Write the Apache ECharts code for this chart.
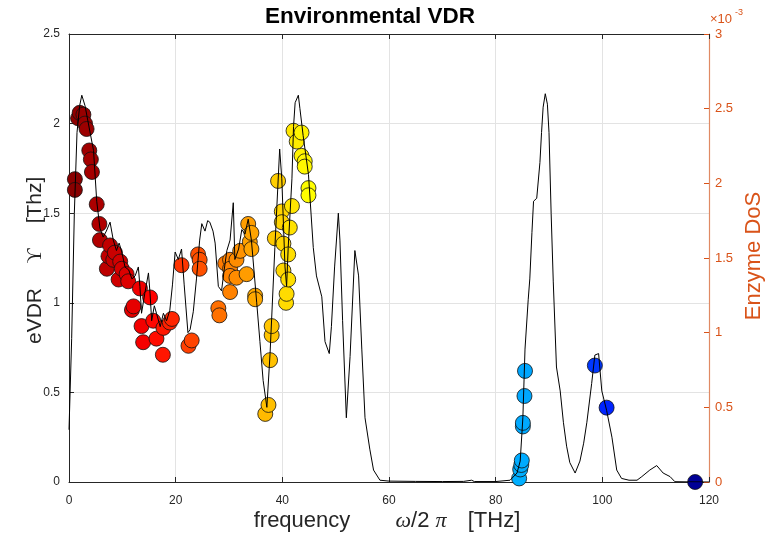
<!DOCTYPE html>
<html><head><meta charset="utf-8">
<script src="https://cdn.jsdelivr.net/npm/echarts@6/dist/echarts.min.js"></script>
<style>html,body{margin:0;padding:0;background:#fff}#c{width:768px;height:538px}</style>
</head><body><div id="c"></div>
<script>
// ---- data ----
const xTickValues = [0, 20, 40, 60, 80, 100, 120];
const leftTickValues = [0, 0.5, 1, 1.5, 2, 2.5];
const rightTickValues = [0, 0.5, 1, 1.5, 2, 2.5, 3];   // x10^-3

// Enzyme DoS curve (right axis, units of 1e-3)
const dosFreq = [0,0.5,1.0,1.5,2.0,2.4,3.0,3.9,4.6,5.2,5.8,6.4,7.0,7.7,8.3,8.9,9.4,9.9,10.5,11.2,11.8,12.4,13.0,13.3,13.6,14.2,14.9,15.2,15.5,16.0,16.4,17.1,17.7,18.3,18.9,19.4,19.9,20.5,21.1,21.6,22.3,22.7,23.3,23.9,24.5,24.9,25.5,26.0,26.4,27.0,27.4,28.0,28.6,29.1,29.6,30.2,30.8,31.1,31.8,32.4,33.0,33.6,34.2,35.2,35.8,36.4,37.1,37.7,38.6,39.5,39.9,40.5,40.8,41.1,41.8,42.1,42.4,43.0,43.3,43.9,44.9,45.8,46.4,47.4,48.0,48.8,49.2,49.8,50.5,50.8,51.3,52.0,52.7,53.6,54.3,54.9,55.5,56.4,57.1,58.3,60,65,70,74,75.5,76,80,82.7,84.0,84.6,85.1,85.5,86.1,86.4,86.8,87.1,87.7,88.3,88.6,88.9,89.3,89.7,90.0,90.4,90.8,91.4,92.1,92.7,93.3,93.9,94.9,95.8,96.5,97.1,98.0,98.6,99.3,99.9,100.8,101.8,102.7,103.6,105,106.5,107.4,108.9,110.2,111.4,112.7,113.6,116,120];
const dosValue = [0.35,0.96,1.80,2.34,2.52,2.59,2.52,2.35,2.22,1.88,1.70,1.64,1.68,1.74,1.62,1.55,1.60,1.54,1.44,1.42,1.36,1.38,1.44,1.31,1.13,1.26,1.40,1.26,1.08,1.18,1.13,1.04,1.13,1.08,1.15,1.32,1.54,1.49,1.56,1.32,1.00,1.02,1.14,1.36,1.62,1.73,1.68,1.75,1.74,1.68,1.60,1.31,1.28,1.42,1.55,1.62,1.87,1.49,1.56,1.69,1.66,1.76,1.62,1.20,0.94,0.68,0.50,0.86,1.57,2.23,2.03,1.44,1.31,1.57,2.03,2.38,2.54,2.59,2.50,2.32,2.06,1.57,1.38,1.24,0.94,0.86,1.04,1.44,1.80,1.62,1.08,0.43,0.84,1.55,1.38,0.89,0.43,0.22,0.08,0.012,0.006,0.004,0.003,0.004,0.012,0.003,0.003,0.012,0.06,0.14,0.43,0.89,1.22,1.36,1.67,1.88,1.90,2.14,2.34,2.51,2.60,2.53,2.34,1.80,1.34,0.77,0.61,0.40,0.24,0.13,0.06,0.14,0.26,0.40,0.66,0.85,0.86,0.61,0.48,0.30,0.08,0.024,0.012,0.012,0.036,0.08,0.11,0.06,0.036,0.002,0.001,0];

// Environmental VDR points (left axis, THz)
const vdrFreq = [1.1,1.1,1.7,2.0,2.7,3.0,3.3,3.8,4.1,4.3,5.2,5.7,5.8,7.1,7.4,7.7,8.3,8.6,9.3,9.6,9.9,10.8,11.1,11.8,12.1,13.3,13.6,13.9,15.2,15.8,16.4,17.6,17.7,18.9,19.3,21.1,22.4,23.0,24.2,24.5,24.5,28.0,28.2,29.3,30.2,30.2,30.2,30.2,31.4,31.4,32.1,33.3,33.6,33.9,34.2,34.2,34.9,34.9,36.8,37.4,37.7,38.0,38.0,38.6,39.2,39.9,39.9,40.2,40.2,40.7,40.8,41.1,41.1,41.4,41.8,42.1,42.7,43.6,43.6,44.2,44.2,44.9,44.9,84.4,84.6,84.8,84.9,85.1,85.1,85.4,85.5,98.6,100.8,117.4];
const vdrValue = [1.69,1.63,2.03,2.06,2.05,2.00,1.97,1.85,1.80,1.73,1.55,1.44,1.35,1.19,1.26,1.32,1.24,1.28,1.13,1.23,1.19,1.16,1.12,0.96,0.98,1.08,0.87,0.78,1.03,0.90,0.80,0.71,0.86,0.89,0.91,1.21,0.76,0.79,1.27,1.24,1.19,0.97,0.93,1.22,1.24,1.19,1.15,1.06,1.24,1.14,1.29,1.16,1.44,1.34,1.39,1.30,1.04,1.02,0.38,0.43,0.68,0.82,0.87,1.36,1.68,1.51,1.45,1.33,1.18,1.00,1.05,1.27,1.13,1.42,1.54,1.96,1.90,1.95,1.82,1.79,1.76,1.64,1.60,0.02,0.07,0.095,0.12,0.31,0.33,0.48,0.62,0.65,0.415,0.0];

const dosData = dosFreq.map((f, i) => [f, dosValue[i]]);
const vdrData = vdrFreq.map((f, i) => [f, vdrValue[i]]);

const orange = '#D95319';
const axisGray = '#262626';
const sans = '"Liberation Sans", Arial, Helvetica, sans-serif';
const serif = '"Liberation Serif", "Times New Roman", serif';
const chart = echarts.init(document.getElementById('c'), null, {renderer: 'canvas'});
chart.setOption({
  animation: false,
  backgroundColor: '#fff',
  grid: {left: 69, right: 59, top: 34, bottom: 56, containLabel: false},
  visualMap: {
    type: 'continuous', show: false, seriesIndex: 0, dimension: 0, min: 0, max: 120,
    inRange: {color: ['#800000','#ff0000','#ff8000','#ffff00','#80ff80','#00ffff','#0080ff','#0000ff','#000080']}
  },
  xAxis: [{
    type: 'value', min: 0, max: 120, interval: 20, position: 'bottom',
    axisLine: {show: true, onZero: false, lineStyle: {color: axisGray, width: 1}},
    axisTick: {show: true, inside: true, length: 5, lineStyle: {color: axisGray}},
    axisLabel: {color: axisGray, fontSize: 12, margin: 13, fontFamily: sans},
    splitLine: {show: true, lineStyle: {color: '#e3e3e3', width: 1}}
  }, {
    type: 'value', min: 0, max: 120, interval: 20, position: 'top',
    axisLine: {show: true, onZero: false, lineStyle: {color: axisGray, width: 1}},
    axisTick: {show: true, inside: true, length: 5, lineStyle: {color: axisGray}},
    axisLabel: {show: false}, splitLine: {show: false}
  }],
  yAxis: [{
    type: 'value', min: 0, max: 2.5, interval: 0.5, position: 'left',
    axisLine: {show: true, onZero: false, lineStyle: {color: axisGray, width: 1}},
    axisTick: {show: true, inside: true, length: 5, lineStyle: {color: axisGray}},
    axisLabel: {color: axisGray, fontSize: 12, margin: 9, fontFamily: sans},
    splitLine: {show: true, lineStyle: {color: '#e3e3e3', width: 1}}
  }, {
    type: 'value', min: 0, max: 3, interval: 0.5, position: 'right',
    axisLine: {show: true, onZero: false, lineStyle: {color: '#e08a64', width: 1.2}},
    axisTick: {show: true, inside: true, length: 5, lineStyle: {color: orange}},
    axisLabel: {color: orange, fontSize: 13, margin: 6, fontFamily: sans},
    splitLine: {show: false}
  }],
  series: [{
    type: 'scatter', xAxisIndex: 0, yAxisIndex: 0, data: vdrData, symbolSize: 15, z: 2,
    itemStyle: {borderColor: '#111', borderWidth: 0.8, opacity: 1}
  }, {
    type: 'line', xAxisIndex: 0, yAxisIndex: 1, data: dosData, showSymbol: false, symbol: 'none', z: 3,
    lineStyle: {color: '#000', width: 1}
  }],
  graphic: [
    {type: 'text', style: {text: 'Environmental VDR', x: 370, y: 17, align: 'center', verticalAlign: 'middle', font: 'bold 22.5px ' + sans, fill: '#000'}},
    // x-axis name
    {type: 'text', style: {text: 'frequency', x: 302, y: 521, align: 'center', verticalAlign: 'middle', font: '22px ' + sans, fill: axisGray}},
    {type: 'text', style: {text: '{w|ω}{s|/2 }{p|π}', x: 421, y: 521, align: 'center', verticalAlign: 'middle',
      rich: {w: {fontSize: 22, fontFamily: serif, fontStyle: 'italic', fill: axisGray}, s: {fontSize: 22, fontFamily: sans, fill: axisGray}, p: {fontSize: 22, fontFamily: serif, fontStyle: 'italic', fill: axisGray}}}},
    {type: 'text', style: {text: '[THz]', x: 494, y: 521, align: 'center', verticalAlign: 'middle', font: '22px ' + sans, fill: axisGray}},
    // left y-axis name
    {type: 'text', x: 35, y: 316, rotation: Math.PI / 2, style: {text: 'eVDR', x: 0, y: 0, align: 'center', verticalAlign: 'middle', font: '21px ' + sans, fill: axisGray}},
    {type: 'text', x: 35, y: 256, rotation: Math.PI / 2, style: {text: 'ϒ', x: 0, y: 0, align: 'center', verticalAlign: 'middle', font: '21px ' + serif, fill: axisGray}},
    {type: 'text', x: 35, y: 200, rotation: Math.PI / 2, style: {text: '[Thz]', x: 0, y: 0, align: 'center', verticalAlign: 'middle', font: '21px ' + sans, fill: axisGray}},
    // right y-axis name
    {type: 'text', x: 754, y: 256, rotation: Math.PI / 2, style: {text: 'Enzyme DoS', x: 0, y: 0, align: 'center', verticalAlign: 'middle', font: '22px ' + sans, fill: orange}},
    // exponent
    {type: 'text', style: {text: '×10', x: 710, y: 19, align: 'left', verticalAlign: 'middle', font: '13px ' + sans, fill: orange}},
    {type: 'text', style: {text: '-3', x: 735, y: 13, align: 'left', verticalAlign: 'middle', font: '9px ' + sans, fill: orange}}
  ]
});
</script></body></html>
